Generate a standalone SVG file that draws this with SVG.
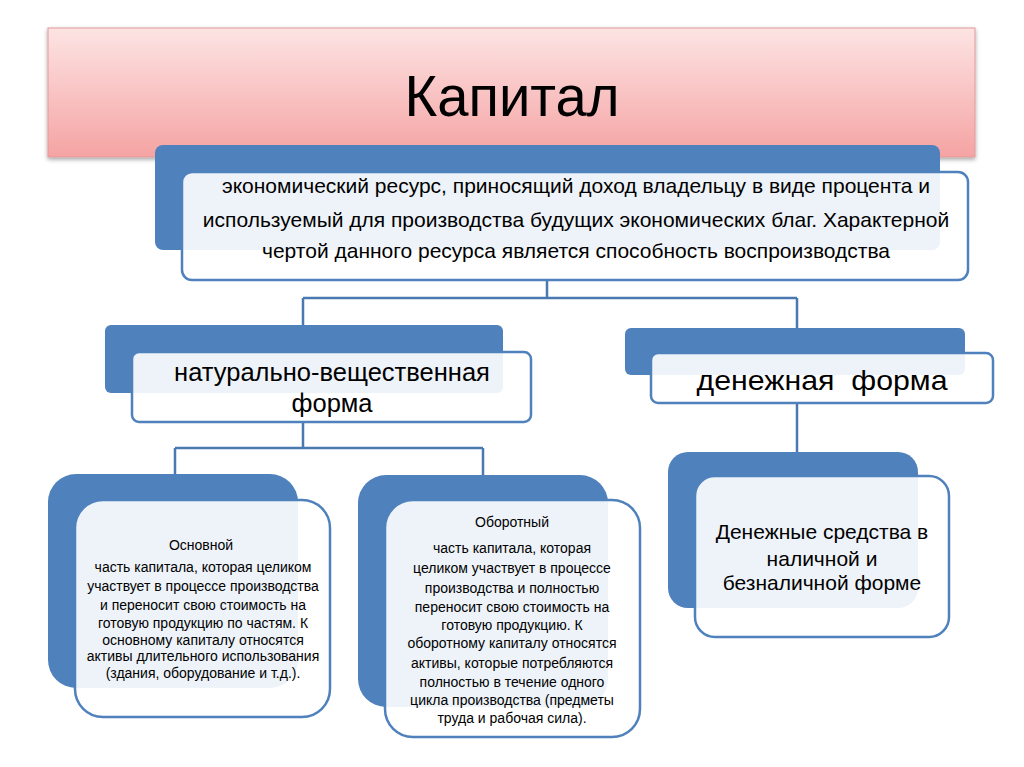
<svg xmlns="http://www.w3.org/2000/svg" width="1024" height="767" viewBox="0 0 1024 767">
<defs>
<linearGradient id="pink" x1="0" y1="0" x2="0" y2="1">
<stop offset="0" stop-color="#fde4e4"/>
<stop offset="1" stop-color="#f5a3a3"/>
</linearGradient>
<filter id="sh" x="-5%" y="-5%" width="110%" height="120%">
<feDropShadow dx="0" dy="2" stdDeviation="2" flood-color="#000" flood-opacity="0.35"/>
</filter>
</defs>
<style>
.back{fill:#4f81bd}
.front{fill:#ffffff;fill-opacity:0.9;stroke:#4f81bd;stroke-width:2.5}
.t{font-family:"Liberation Sans",Arial,sans-serif;fill:#000;text-anchor:middle}
.conn{fill:none;stroke:#4a78b0;stroke-width:2.5}
</style>
<rect width="1024" height="767" fill="#ffffff"/>
<g id="title">
<rect x="48" y="28" width="927" height="129" fill="url(#pink)" stroke="#e09a9a" stroke-width="1" filter="url(#sh)"/>
<text class="t" x="512" y="116" font-size="58" textLength="215" lengthAdjust="spacingAndGlyphs">Капитал</text>
</g>
<g id="connectors">
<path class="conn" d="M547 280 V298 M303 298 H797 M303 298 V325 M797 298 V328"/>
<path class="conn" d="M303 422 V448 M175 448 H483 M175 448 V475 M483 448 V475"/>
<path class="conn" d="M797 403 V452"/>
</g>
<g id="definition">
<rect class="back" x="155" y="145" width="785" height="105" rx="8"/>
<rect class="front" x="182" y="172" width="786" height="108" rx="10"/>
<text class="t" x="576" y="193" font-size="21">экономический ресурс, приносящий доход владельцу в виде процента и</text>
<text class="t" x="576" y="227" font-size="21">используемый для производства будущих экономических благ. Характерной</text>
<text class="t" x="576" y="258" font-size="21">чертой данного ресурса является способность воспроизводства</text>
</g>
<g id="natural">
<rect class="back" x="105" y="325" width="398" height="68" rx="6"/>
<rect class="front" x="132" y="352" width="399" height="70" rx="7"/>
<text class="t" x="332" y="381" font-size="25.5">натурально-вещественная</text>
<text class="t" x="332" y="412" font-size="25.5">форма</text>
</g>
<g id="money">
<rect class="back" x="625" y="328" width="340" height="47" rx="6"/>
<rect class="front" x="651" y="353" width="342" height="50" rx="7"/>
<text class="t" x="822" y="390" font-size="28" textLength="251" lengthAdjust="spacingAndGlyphs" xml:space="preserve">денежная  форма</text>
</g>
<g id="fixed">
<rect class="back" x="48" y="474" width="250" height="214" rx="28"/>
<rect class="front" x="75" y="500" width="255" height="217" rx="28"/>
<g font-size="14">
<text class="t" x="201" y="550">Основной</text>
<text class="t" x="203" y="572">часть капитала, которая целиком</text>
<text class="t" x="203" y="591">участвует в процессе производства</text>
<text class="t" x="203" y="610">и переносит свою стоимость на</text>
<text class="t" x="203" y="628">готовую продукцию по частям. К</text>
<text class="t" x="203" y="645">основному капиталу относятся</text>
<text class="t" x="203" y="661">активы длительного использования</text>
<text class="t" x="203" y="678">(здания, оборудование и т.д.).</text>
</g>
</g>
<g id="circulating">
<rect class="back" x="358" y="475" width="250" height="232" rx="28"/>
<rect class="front" x="385" y="500" width="255" height="237" rx="28"/>
<g font-size="14">
<text class="t" x="512" y="527">Оборотный</text>
<text class="t" x="512" y="553">часть капитала, которая</text>
<text class="t" x="512" y="573">целиком участвует в процессе</text>
<text class="t" x="512" y="593">производства и полностью</text>
<text class="t" x="512" y="612">переносит свою стоимость на</text>
<text class="t" x="512" y="630">готовую продукцию. К</text>
<text class="t" x="512" y="648">оборотному капиталу относятся</text>
<text class="t" x="512" y="668">активы, которые потребляются</text>
<text class="t" x="512" y="687">полностью в течение одного</text>
<text class="t" x="512" y="705">цикла производства (предметы</text>
<text class="t" x="512" y="723">труда и рабочая сила).</text>
</g>
</g>
<g id="cash">
<rect class="back" x="668" y="452" width="250" height="156" rx="20"/>
<rect class="front" x="695" y="476" width="254" height="161" rx="20"/>
<g font-size="21">
<text class="t" x="822" y="539">Денежные средства в</text>
<text class="t" x="822" y="566">наличной и</text>
<text class="t" x="822" y="590">безналичной форме</text>
</g>
</g>
</svg>
